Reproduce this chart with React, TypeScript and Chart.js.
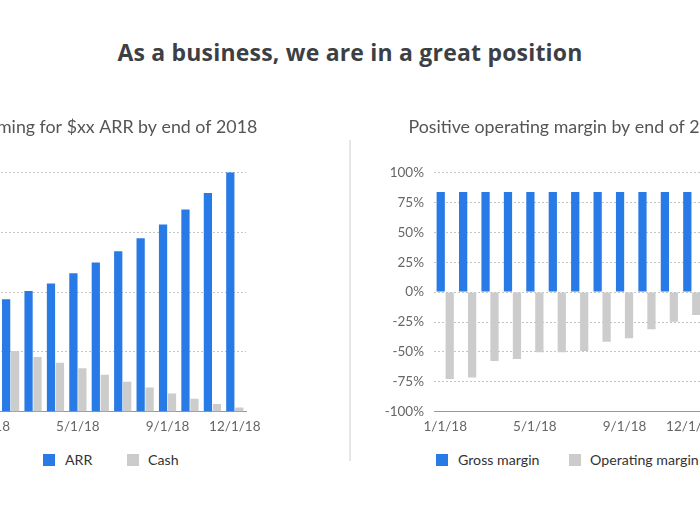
import React, { useEffect, useRef } from "react";
import { Chart, registerables } from "chart.js";

Chart.register(...registerables);

const months = ["1/1/18", "2/1/18", "3/1/18", "4/1/18", "5/1/18", "6/1/18", "7/1/18", "8/1/18", "9/1/18", "10/1/18", "11/1/18", "12/1/18"];
const shownTicks = ["1/1/18", "5/1/18", "9/1/18", "12/1/18"];
const arrValues = [44, 47, 50.4, 53.6, 57.9, 62.4, 67.1, 72.5, 78.2, 84.5, 91.4, 100];
const cashValues = [28, 25.4, 22.9, 20.5, 18.2, 15.5, 12.6, 10.1, 7.6, 5.4, 3.3, 1.8];
const grossMargin = [83.5, 83.5, 83.5, 83.5, 83.5, 83.5, 83.5, 83.5, 83.5, 83.5, 83.5, 83.5];
const operatingMargin = [-72.5, -71.4, -57.5, -56, -50.3, -50.3, -49.2, -41.4, -38.6, -31.1, -24.7, -19.2];

const mainTitle = "As a business, we are in a great position";
const leftTitle = "Aiming for $xx ARR by end of 2018";
const rightTitle = "Positive operating margin by end of 2018";

const BLUE = "#287ae6";
const GRAY = "#cccccc";
const FONT = "Lato, 'Open Sans', sans-serif";

const CANVAS_H = 345;
const AXIS_W = 50;
const PLOT_W = 269;

function makeOptions(kind: "left" | "right", rightW: number): any {
  return {
    animation: false,
    responsive: false,
    maintainAspectRatio: false,
    layout: { padding: { left: 0, right: 0, top: 0, bottom: 3 } },
    plugins: {
      legend: { display: false },
      tooltip: { enabled: false },
      title: {
        display: true,
        text: kind === "left" ? leftTitle : rightTitle,
        color: "#555555",
        font: { family: FONT, size: 17.8, weight: "normal" },
        padding: { top: 17, bottom: 34 },
      },
    },
    datasets: { bar: { categoryPercentage: 0.8, barPercentage: 0.92 } },
    scales: {
      x: {
        grid: { display: false, drawTicks: false },
        border: { display: true, color: "#999999", width: 1 },
        ticks: {
          autoSkip: false,
          maxRotation: 0,
          padding: 7,
          color: "#666666",
          font: { family: FONT, size: 13.5 },
          callback: function (this: any, _v: any, i: number) {
            const l = months[i];
            return shownTicks.includes(l) ? l : "";
          },
        },
      },
      y: {
        position: "left",
        min: kind === "left" ? 0 : -100,
        max: 100,
        afterFit: (scale: any) => {
          scale.width = AXIS_W;
        },
        grid: { color: "#c4c4c4", lineWidth: 1, drawTicks: false },
        border: { display: false, dash: [2, 2] },
        ticks: {
          display: kind === "right",
          stepSize: 25,
          padding: 10,
          color: "#666666",
          font: { family: FONT, size: 13.5 },
          callback: (v: any) => v + "%",
        },
      },
      spacer: {
        type: "linear",
        position: "right",
        display: true,
        afterFit: (scale: any) => {
          scale.width = rightW;
        },
        grid: { display: false, drawTicks: false },
        border: { display: false },
        ticks: { display: false },
      },
    },
  };
}

function BarChart({ kind, rightW }: { kind: "left" | "right"; rightW: number }) {
  const ref = useRef<HTMLCanvasElement>(null);
  const w = AXIS_W + PLOT_W + rightW;
  useEffect(() => {
    if (!ref.current) return;
    const datasets =
      kind === "left"
        ? [
            { label: "ARR", data: arrValues, backgroundColor: BLUE },
            { label: "Cash", data: cashValues, backgroundColor: GRAY },
          ]
        : [
            { label: "Gross margin", data: grossMargin, backgroundColor: BLUE },
            { label: "Operating margin", data: operatingMargin, backgroundColor: GRAY },
          ];
    const chart = new Chart(ref.current, {
      type: "bar",
      data: { labels: months, datasets },
      options: makeOptions(kind, rightW),
    });
    return () => chart.destroy();
  }, [kind, rightW]);
  return <canvas ref={ref} width={w} height={CANVAS_H} style={{ width: w, height: CANVAS_H, display: "block" }} />;
}

function LegendItem({ x, color, text, textX }: { x: number; color: string; text: string; textX: number }) {
  return (
    <>
      <div style={{ position: "absolute", left: x, top: 454, width: 12, height: 12, background: color }} />
      <div
        style={{
          position: "absolute",
          left: textX,
          top: 450,
          height: 20,
          lineHeight: "20px",
          fontFamily: FONT,
          fontSize: 14.2,
          color: "#333333",
          whiteSpace: "nowrap",
        }}
      >
        {text}
      </div>
    </>
  );
}

export default function App() {
  return (
    <div style={{ position: "fixed", left: 0, top: 0, width: 700, height: 525, overflow: "hidden", background: "#ffffff" }}>
      <div
        style={{
          position: "absolute",
          left: 0,
          width: 700,
          top: 36,
          textAlign: "center",
          fontFamily: "'Open Sans', Lato, sans-serif",
          fontWeight: 700,
          fontSize: 23,
          letterSpacing: 0.2,
          lineHeight: "32px",
          color: "#3c3f44",
        }}
      >
        {mainTitle}
      </div>
      <div style={{ position: "absolute", left: -73, top: 100 }}>
        <BarChart kind="left" rightW={65} />
      </div>
      <div style={{ position: "absolute", left: 384, top: 100 }}>
        <BarChart kind="right" rightW={52} />
      </div>
      <div style={{ position: "absolute", left: 349, top: 140, width: 2, height: 321, background: "#e6e6e6" }} />
      <LegendItem x={43} color={BLUE} text="ARR" textX={65} />
      <LegendItem x={127} color={GRAY} text="Cash" textX={148} />
      <LegendItem x={436} color={BLUE} text="Gross margin" textX={458} />
      <LegendItem x={569} color={GRAY} text="Operating margin" textX={590} />
    </div>
  );
}
